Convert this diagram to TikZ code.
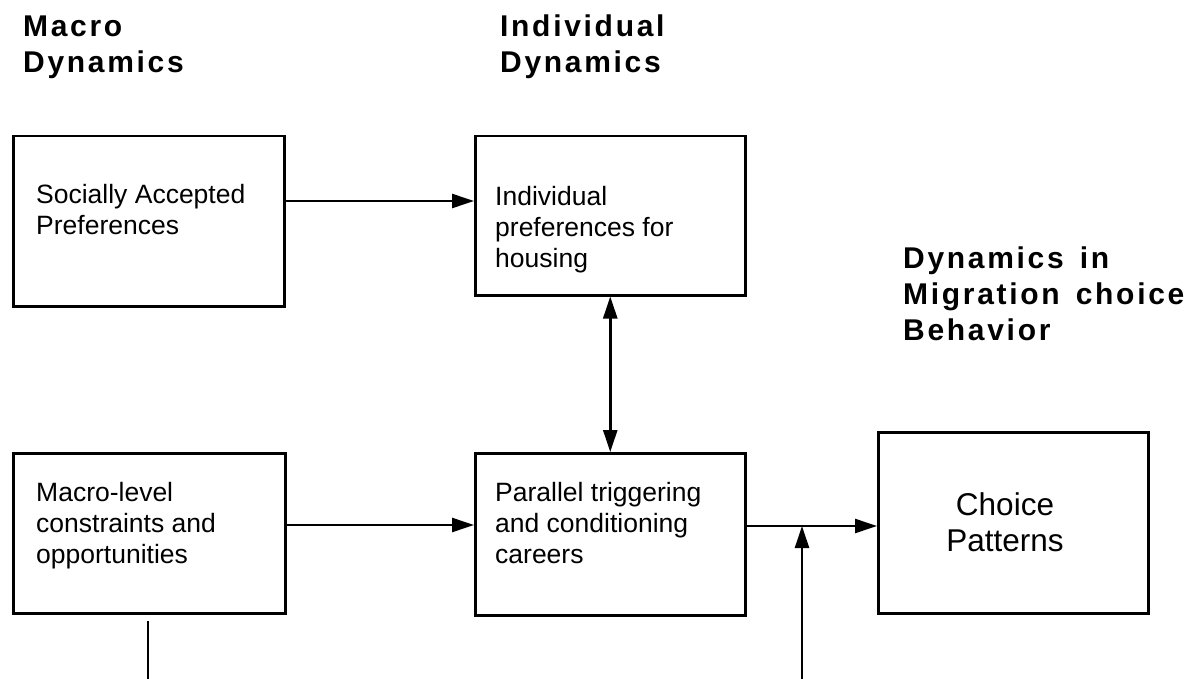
\documentclass[tikz,border=0pt]{standalone}
\usepackage{fontspec}
\setmainfont{Liberation Sans}
\newfontfamily\hdfont[LetterSpace=9]{Liberation Sans}
\usetikzlibrary{arrows.meta,calc}
\begin{document}
\begin{tikzpicture}[x=1pt,y=-1pt,
  box/.style={draw=black,line width=2.5pt,inner sep=0pt,anchor=north west},
  txt/.style={anchor=base west,inner sep=0pt,align=left,font=\fontsize{26.5}{31}\selectfont},
  hdr/.style={anchor=base west,inner sep=0pt,align=left,font=\hdfont\bfseries\fontsize{30}{36}\selectfont},
  arr/.style={line width=2.5pt,-{Triangle[length=22pt,width=14pt]}},
  dbl/.style={line width=2.5pt,{Triangle[length=22pt,width=14pt]}-{Triangle[length=22pt,width=14pt]}},
  ln/.style={line width=2.5pt}]
\useasboundingbox[fill=white] (0,0) rectangle (1188,679);
% headers (anchor = baseline of last line)
\node[hdr] (h1) at (23,73) {Macro\\Dynamics};
\node[hdr] (h2) at (500,73) {Individual\\Dynamics};
\node[hdr] (h3) at (903,340) {Dynamics \,in\\Migration \,choice\\Behavior};
% boxes
\node[box,minimum width=271pt,minimum height=170pt] (sap) at (12,135) {};
\node[box,minimum width=270pt,minimum height=159pt] (ind) at (474,135) {};
\node[box,minimum width=272pt,minimum height=160pt] (mlc) at (12,452) {};
\node[box,minimum width=270pt,minimum height=162pt] (par) at (474,452) {};
\node[box,minimum width=270pt,minimum height=181pt] (cho) at (877,431) {};
% texts
\node[txt] (t1) at (36,234) {Socially Accepted\\Preferences};
\node[txt] (t2) at (495,267) {Individual\\preferences for\\housing};
\node[txt] (t3) at (36,563) {Macro-level\\constraints and\\opportunities};
\node[txt] (t4) at (495,563) {Parallel triggering\\and conditioning\\careers};
\node[anchor=base,inner sep=0pt,align=center,font=\fontsize{31.5}{36}\selectfont] (t5) at (1005,551) {Choice\\Patterns};
% connectors
\draw[arr] (sap.east |- 0,201) -- (ind.west |- 0,201);
\draw[arr] (mlc.east |- 0,525) -- (par.west |- 0,525);
\draw[arr] (par.east |- 0,526) -- (cho.west |- 0,526);
\draw[dbl] (ind.south) -- (par.north);
\coordinate (b1) at (148,621);
\coordinate (b1e) at (148,679);
\draw[ln] (b1) -- (b1e);
\coordinate (b2) at (802,679);
\draw[arr] (b2) -- (b2 |- 0,526);
\end{tikzpicture}
\end{document}
